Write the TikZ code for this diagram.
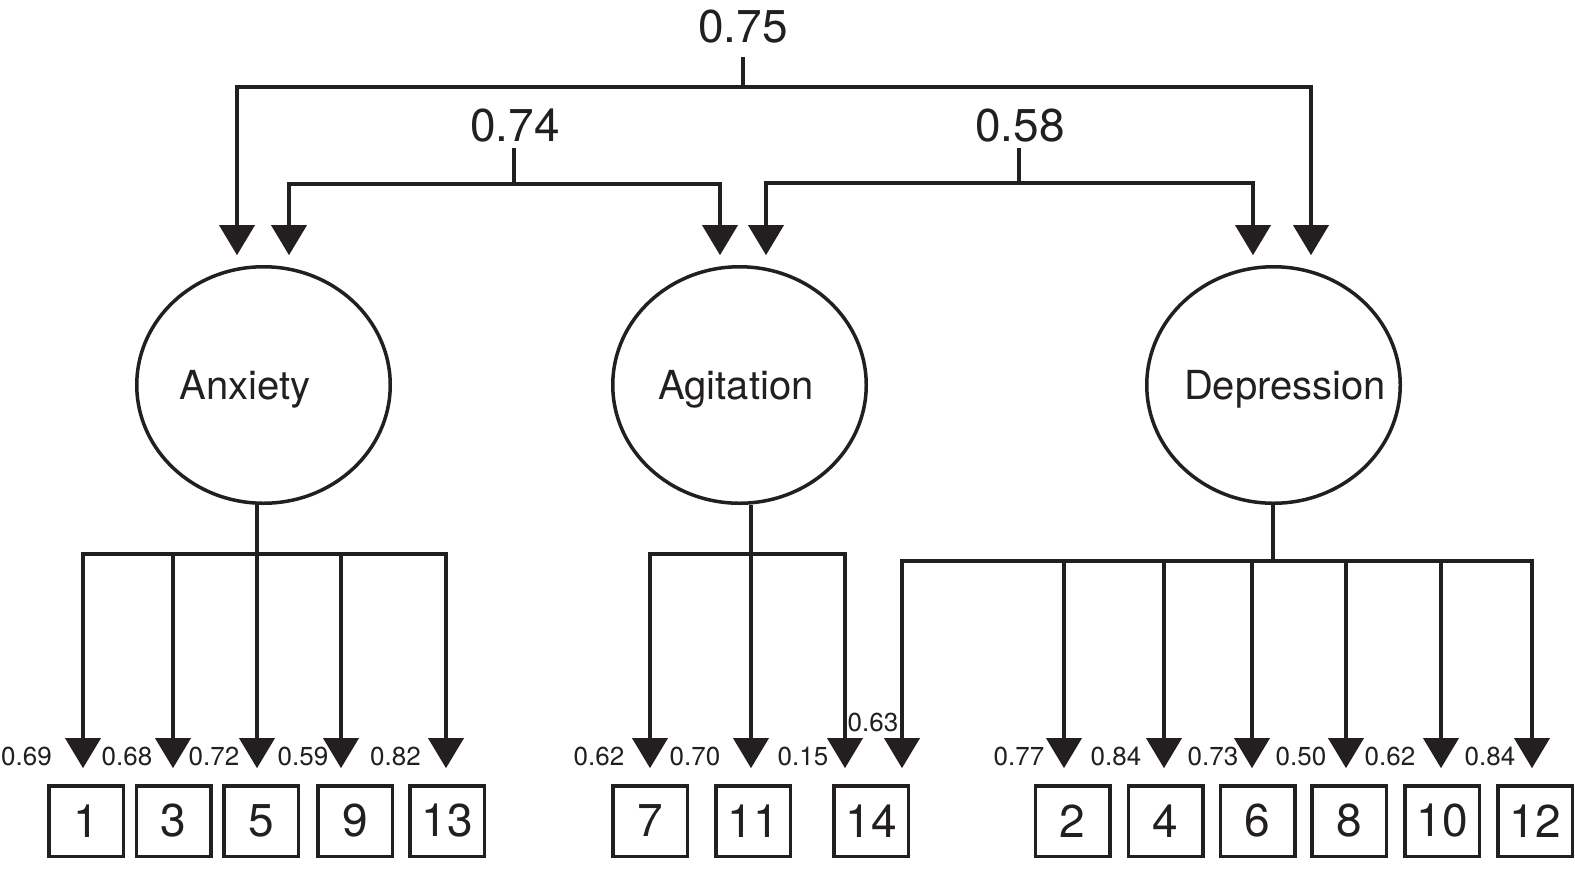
\documentclass[tikz,border=0pt]{standalone}
\usepackage{fontspec}
\setmainfont{TeX Gyre Heros}
\usetikzlibrary{arrows.meta,shapes.geometric}
\definecolor{ink}{RGB}{35,31,32}
\begin{document}
\begin{tikzpicture}[x=0.5pt,y=-0.5pt,
  conn/.style={draw=ink, line width=1.75pt},
  arr/.style={conn, -{Triangle[length=15pt,width=17.5pt]}},
  toarr/.style={arr, shorten >=4.9pt},
  boxarr/.style={arr, shorten >=7.9pt},
  lat/.style={ellipse, draw=ink, line width=1.75pt, inner sep=0pt,
    minimum width=126.75pt, minimum height=118.25pt},
  latlab/.style={anchor=base, inner sep=0pt, text=ink, font=\fontsize{20}{24}\selectfont},
  itembox/.style={rectangle, draw=ink, line width=1.75pt, inner sep=0pt, text=ink,
    minimum width=37.25pt, minimum height=35.25pt, font=\fontsize{23}{27}\selectfont},
  corrlab/.style={anchor=base, inner sep=0pt, text=ink, font=\fontsize{23}{27}\selectfont},
  loadlab/.style={anchor=base, inner sep=0pt, text=ink, font=\fontsize{13}{15}\selectfont}]
\useasboundingbox (0,0) rectangle (1575,895);

% latent variables
\node[lat] (anx) at (263.5,385) {};
\node[lat] (agi) at (739.5,385) {};
\node[lat] (dep) at (1273.5,385) {};
\node[latlab] (anxt) at (245,399) {Anxiety};
\node[latlab] (agit) at (736,399) {Agitation};
\node[latlab] (dept) at (1285,399) {Depression};

% items
\node[itembox] (b1) at (86,821) {1};
\node[itembox] (b3) at (173.5,821) {3};
\node[itembox] (b5) at (261,821) {5};
\node[itembox] (b9) at (355,821) {9};
\node[itembox] (b13) at (447,821) {13};
\node[itembox] (b7) at (650,821) {7};
\node[itembox] (b11) at (753,821) {11};
\node[itembox] (b14) at (871,821) {14};
\node[itembox] (b2) at (1072.5,821) {2};
\node[itembox] (b4) at (1165.5,821) {4};
\node[itembox] (b6) at (1257.5,821) {6};
\node[itembox] (b8) at (1349,821) {8};
\node[itembox] (b10) at (1442,821) {10};
\node[itembox] (b12) at (1535,821) {12};

% correlations
\node[corrlab] (l75) at (743,42) {0.75};
\node[corrlab] (l74) at (515,141) {0.74};
\node[corrlab] (l58) at (1020,141) {0.58};
\coordinate (s75) at (743,57);
\coordinate (c75) at (743,87);
\coordinate (d75a) at (237,87);
\coordinate (d75b) at (1311,87);
\coordinate (s74) at (514,148);
\coordinate (c74) at (514,184);
\coordinate (d74a) at (289,184);
\coordinate (d74b) at (720,184);
\coordinate (s58) at (1019,148);
\coordinate (c58) at (1019,183);
\coordinate (d58a) at (766,183);
\coordinate (d58b) at (1253,183);

\draw[conn] (s75) -- (c75);
\draw[toarr] (c75) -- (d75a) -- (d75a |- anx.north);
\draw[toarr] (c75) -- (d75b) -- (d75b |- dep.north);
\draw[conn] (s74) -- (c74);
\draw[toarr] (c74) -- (d74a) -- (d74a |- anx.north);
\draw[toarr] (c74) -- (d74b) -- (d74b |- agi.north);
\draw[conn] (s58) -- (c58);
\draw[toarr] (c58) -- (d58a) -- (d58a |- agi.north);
\draw[toarr] (c58) -- (d58b) -- (d58b |- dep.north);

% Anxiety loadings
\coordinate (a0) at (257,554);
\coordinate (a1) at (83,554);
\coordinate (a3) at (173,554);
\coordinate (a9) at (341,554);
\coordinate (a13) at (446,554);
\draw[conn] (anx.south -| a0) -- (a0);
\draw[boxarr] (a0) -- (a1) -- (a1 |- b1.north);
\draw[boxarr] (a3) -- (a3 |- b3.north);
\draw[boxarr] (a0) -- (a0 |- b5.north);
\draw[boxarr] (a9) -- (a9 |- b9.north);
\draw[boxarr] (a0) -- (a13) -- (a13 |- b13.north);

% Agitation loadings
\coordinate (g0) at (751,554);
\coordinate (g7) at (650,554);
\coordinate (g14) at (845,554);
\draw[conn] (agi.south -| g0) -- (g0);
\draw[boxarr] (g0) -- (g7) -- (g7 |- b7.north);
\draw[boxarr] (g0) -- (g0 |- b11.north);
\draw[boxarr] (g0) -- (g14) -- (g14 |- b14.north);

% Depression loadings
\coordinate (e0) at (1273,561);
\coordinate (e14) at (902,561);
\coordinate (e2) at (1064,561);
\coordinate (e4) at (1164,561);
\coordinate (e6) at (1252,561);
\coordinate (e8) at (1346,561);
\coordinate (e10) at (1441,561);
\coordinate (e12) at (1532,561);
\draw[conn] (dep.south -| e0) -- (e0);
\draw[boxarr] (e0) -- (e14) -- (e14 |- b14.north);
\draw[boxarr] (e2) -- (e2 |- b2.north);
\draw[boxarr] (e4) -- (e4 |- b4.north);
\draw[boxarr] (e6) -- (e6 |- b6.north);
\draw[boxarr] (e8) -- (e8 |- b8.north);
\draw[boxarr] (e10) -- (e10 |- b10.north);
\draw[boxarr] (e0) -- (e12) -- (e12 |- b12.north);

% loading labels
\node[loadlab] (v1) at (26.5,765) {0.69};
\node[loadlab] (v3) at (127,765) {0.68};
\node[loadlab] (v5) at (214,765) {0.72};
\node[loadlab] (v9) at (303,765) {0.59};
\node[loadlab] (v13) at (395.5,765) {0.82};
\node[loadlab] (v7) at (599,765) {0.62};
\node[loadlab] (v11) at (695,765) {0.70};
\node[loadlab] (v14a) at (803,765) {0.15};
\node[loadlab] (v14b) at (873,731) {0.63};
\node[loadlab] (v2) at (1019,765) {0.77};
\node[loadlab] (v4) at (1116,765) {0.84};
\node[loadlab] (v6) at (1213,765) {0.73};
\node[loadlab] (v8) at (1301,765) {0.50};
\node[loadlab] (v10) at (1390,765) {0.62};
\node[loadlab] (v12) at (1490,765) {0.84};
\end{tikzpicture}
\end{document}
